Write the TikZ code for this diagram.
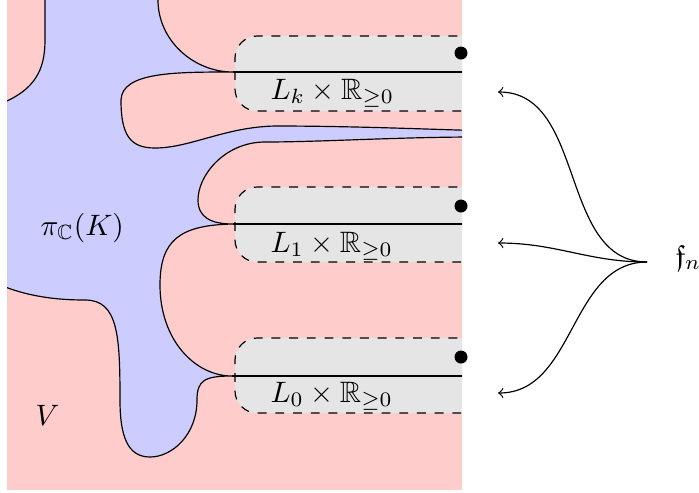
\documentclass[tikz,border=0pt]{standalone}
\usepackage{amssymb}
\begin{document}
\begin{tikzpicture}[x=0.339pt,y=-0.339pt,
  region/.style={fill=blue!20,draw=black,line width=0.4pt},
  band/.style={fill=gray!20,draw=black,dashed,rounded corners=7.5pt},
  lbl/.style={anchor=base west,inner sep=0pt},
  dotmark/.style={fill=black},
  farrow/.style={->}]
\useasboundingbox (0,0) rectangle (699,492);
\fill[red!20] (7,0) rectangle (462,490);
\begin{scope}
\clip (7,0) rectangle (462,490);
\filldraw[region] (45,-10) -- (158,-10) -- (158,0)
  .. controls (158,40) and (193,72) .. (233,72)
  .. controls (175,72) and (122,72) .. (121,100)
  .. controls (121,135) and (130,148) .. (155,148)
  .. controls (190,148) and (225,127) .. (275,126)
  .. controls (350,126) and (420,129) .. (475,130.5)
  -- (475,137)
  .. controls (400,137) and (320,142) .. (265,142)
  .. controls (225,142) and (198,175) .. (198,200)
  .. controls (198,218) and (212,224) .. (233,224)
  .. controls (180,225) and (160,240) .. (160,285)
  .. controls (160,340) and (195,376) .. (232,376)
  .. controls (205,376) and (197,380) .. (197,400)
  .. controls (197,435) and (172,457) .. (150,457)
  .. controls (127,457) and (120,435) .. (120,400)
  .. controls (120,335) and (118,300) .. (85,300)
  .. controls (45,300) and (20,293) .. (0,285)
  -- (-10,285) -- (-10,104) -- (0,104)
  .. controls (35,90) and (45,70) .. (45,40) -- cycle;
\filldraw[band] (475,36) -- (235,36) -- (235,111) -- (475,111);
\filldraw[band] (475,187) -- (235,187) -- (235,262) -- (475,262);
\filldraw[band] (475,338) -- (235,338) -- (235,413) -- (475,413);
\draw (233,72) -- (475,72);
\draw (233,224) -- (475,224);
\draw (232,376) -- (475,376);
\end{scope}
\fill[dotmark] (461,53) circle (6.5);
\fill[dotmark] (461,206) circle (6.5);
\fill[dotmark] (461,357) circle (6.5);
\node[lbl] (lk) at (270,99) {$L_k\times\mathbb{R}_{\geq 0}$};
\node[lbl] (l1) at (270,252) {$L_1\times\mathbb{R}_{\geq 0}$};
\node[lbl] (l0) at (270,402) {$L_0\times\mathbb{R}_{\geq 0}$};
\node[lbl] (piK) at (40,235) {$\pi_{\mathbb{C}}(K)$};
\node[lbl] (V) at (35,425) {$V$};
\node[lbl] (fn) at (675,265) {$\mathfrak{f}_n$};
\coordinate (fsrc) at (647,262);
\coordinate (ek) at (498,92);
\coordinate (e1) at (498,243);
\coordinate (e0) at (498,393);
\draw[farrow] (fsrc) to[out=180,in=0] (ek);
\draw[farrow] (fsrc) to[out=180,in=0] (e1);
\draw[farrow] (fsrc) to[out=180,in=0] (e0);
\end{tikzpicture}
\end{document}
